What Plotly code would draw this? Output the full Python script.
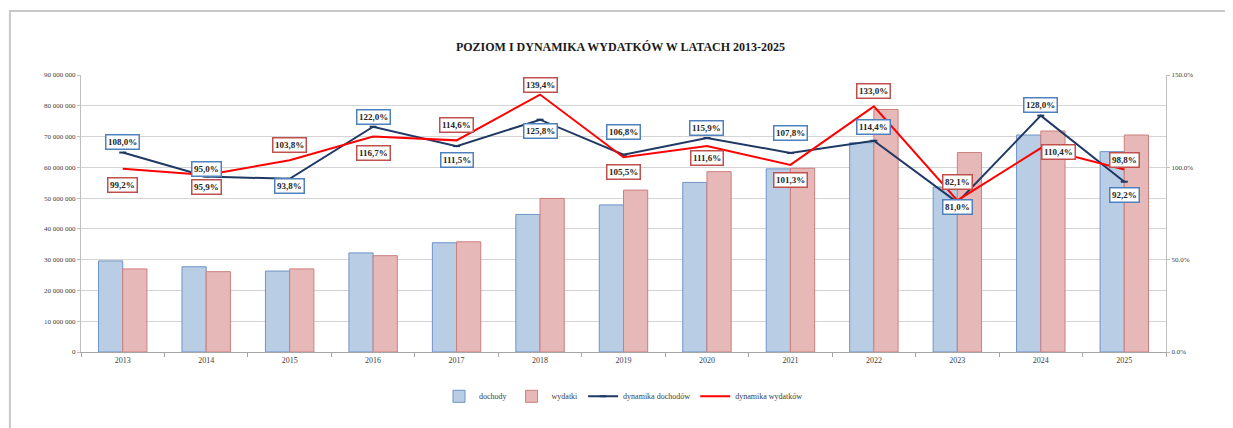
import plotly.graph_objects as go

years = ["2013", "2014", "2015", "2016", "2017", "2018", "2019",
         "2020", "2021", "2022", "2023", "2024", "2025"]
dochody = [29.6e6, 27.7e6, 26.3e6, 32.2e6, 35.5e6, 44.7e6, 47.8e6,
           55.1e6, 59.5e6, 68.0e6, 53.6e6, 70.5e6, 65.1e6]
wydatki = [27.0e6, 26.1e6, 27.0e6, 31.3e6, 35.8e6, 49.9e6, 52.6e6,
           58.6e6, 59.7e6, 78.8e6, 64.8e6, 71.8e6, 70.5e6]
dyn_dochodow = [108.0, 95.0, 93.8, 122.0, 111.5, 125.8, 106.8,
                115.9, 107.8, 114.4, 81.0, 128.0, 92.2]
dyn_wydatkow = [99.2, 95.9, 103.8, 116.7, 114.6, 139.4, 105.5,
                111.6, 101.3, 133.0, 82.1, 110.4, 98.8]
left_ticks = [0, 10e6, 20e6, 30e6, 40e6, 50e6, 60e6, 70e6, 80e6, 90e6]
right_ticks = [0, 50, 100, 150]

# label offsets in pixels (x, y) relative to each point
off_doch = [(0, 11), (0, 8), (0, -7), (0, 10), (0, -14), (0, -11), (0, 23),
            (0, 10), (0, 20), (0, 14), (0, -5), (0, 11), (0, -13)]
off_wyd = [(0, -16), (0, -12), (0, 15), (0, -17), (0, 15), (0, 10), (0, -15),
           (0, -12), (0, -15), (0, 15), (0, 18), (18, -4), (0, 10)]

FONT = "Liberation Serif"
BLUE_FILL = "#b9cde5"
BLUE_EDGE = "#6f93c6"
RED_FILL = "#e6b9b8"
RED_EDGE = "#cd7f7d"
NAVY = "#1f3864"
RED = "#ff0000"

fig = go.Figure()
fig.add_trace(go.Bar(x=years, y=dochody, name="dochody",
                     marker=dict(color=BLUE_FILL, line=dict(color=BLUE_EDGE, width=1))))
fig.add_trace(go.Bar(x=years, y=wydatki, name="wydatki",
                     marker=dict(color=RED_FILL, line=dict(color=RED_EDGE, width=1))))
fig.add_trace(go.Scatter(x=years, y=dyn_dochodow, name="dynamika dochodów", yaxis="y2",
                         mode="lines+markers", line=dict(color=NAVY, width=2),
                         marker=dict(symbol="line-ew", size=5, line=dict(color=NAVY, width=2))))
fig.add_trace(go.Scatter(x=years, y=dyn_wydatkow, name="dynamika wydatków", yaxis="y2",
                         mode="lines", line=dict(color=RED, width=2)))

annotations = []
for vals, offs, edge in ((dyn_dochodow, off_doch, "#4f81bd"), (dyn_wydatkow, off_wyd, "#c0504d")):
    for i, (v, (dx, dy)) in enumerate(zip(vals, offs)):
        annotations.append(dict(
            x=i, y=v, xref="x", yref="y2", showarrow=False,
            text=f"<b>{v:.1f}%</b>".replace(".", ","),
            font=dict(family=FONT, size=9, color="#262626"),
            bgcolor="white", bordercolor=edge, borderwidth=1.5, borderpad=1.5,
            xshift=dx, yshift=dy))

left_text = [f"{int(t):,}".replace(",", " ") for t in left_ticks]
right_text = [f"{t:.1f}%" for t in right_ticks]

fig.update_layout(
    width=1225, height=420,
    margin=dict(l=73, r=67, t=67, b=76),
    paper_bgcolor="white", plot_bgcolor="white",
    title=dict(text="<b>POZIOM I DYNAMIKA WYDATKÓW W LATACH 2013-2025</b>",
               x=0.5, xanchor="center", y=0.907, yanchor="middle",
               font=dict(family=FONT, size=12, color="#1a1a1a")),
    barmode="group", bargap=0.42, bargroupgap=0,
    font=dict(family=FONT, size=8, color="#404040"),
    xaxis=dict(type="category", categoryorder="array", categoryarray=years,
               range=[-0.5, len(years) - 0.5],
               showgrid=False, showline=True, linecolor="#a6a6a6",
               ticks="outside", tickson="boundaries", ticklen=4, tickcolor="#a6a6a6",
               tickfont=dict(size=8, family=FONT)),
    yaxis=dict(range=[0, 90e6], tickvals=left_ticks, ticktext=left_text,
               showgrid=True, gridcolor="#d4d4d4", gridwidth=1,
               showline=True, linecolor="#bfbfbf", ticks="outside", ticklen=3,
               tickcolor="#bfbfbf", tickfont=dict(size=7, family=FONT), zeroline=False),
    yaxis2=dict(range=[0, 150], tickvals=right_ticks, ticktext=right_text,
                overlaying="y", side="right", showgrid=False, showline=True,
                linecolor="#bfbfbf", ticks="outside", ticklen=3, tickcolor="#bfbfbf",
                tickfont=dict(size=7, family=FONT), zeroline=False),
    legend=dict(orientation="h", x=0.5, xanchor="center", y=-0.16, yanchor="middle",
                font=dict(size=8, family=FONT), traceorder="normal", itemwidth=30,
                tracegroupgap=0),
    annotations=annotations,
    shapes=[dict(type="rect", xref="paper", yref="paper",
                 x0=-0.0655, x1=1.08, y0=-0.35, y1=1.231,
                 line=dict(color="#c8c8c8", width=2), fillcolor="rgba(0,0,0,0)",
                 layer="below")],
)

fig.write_html("out.html")
